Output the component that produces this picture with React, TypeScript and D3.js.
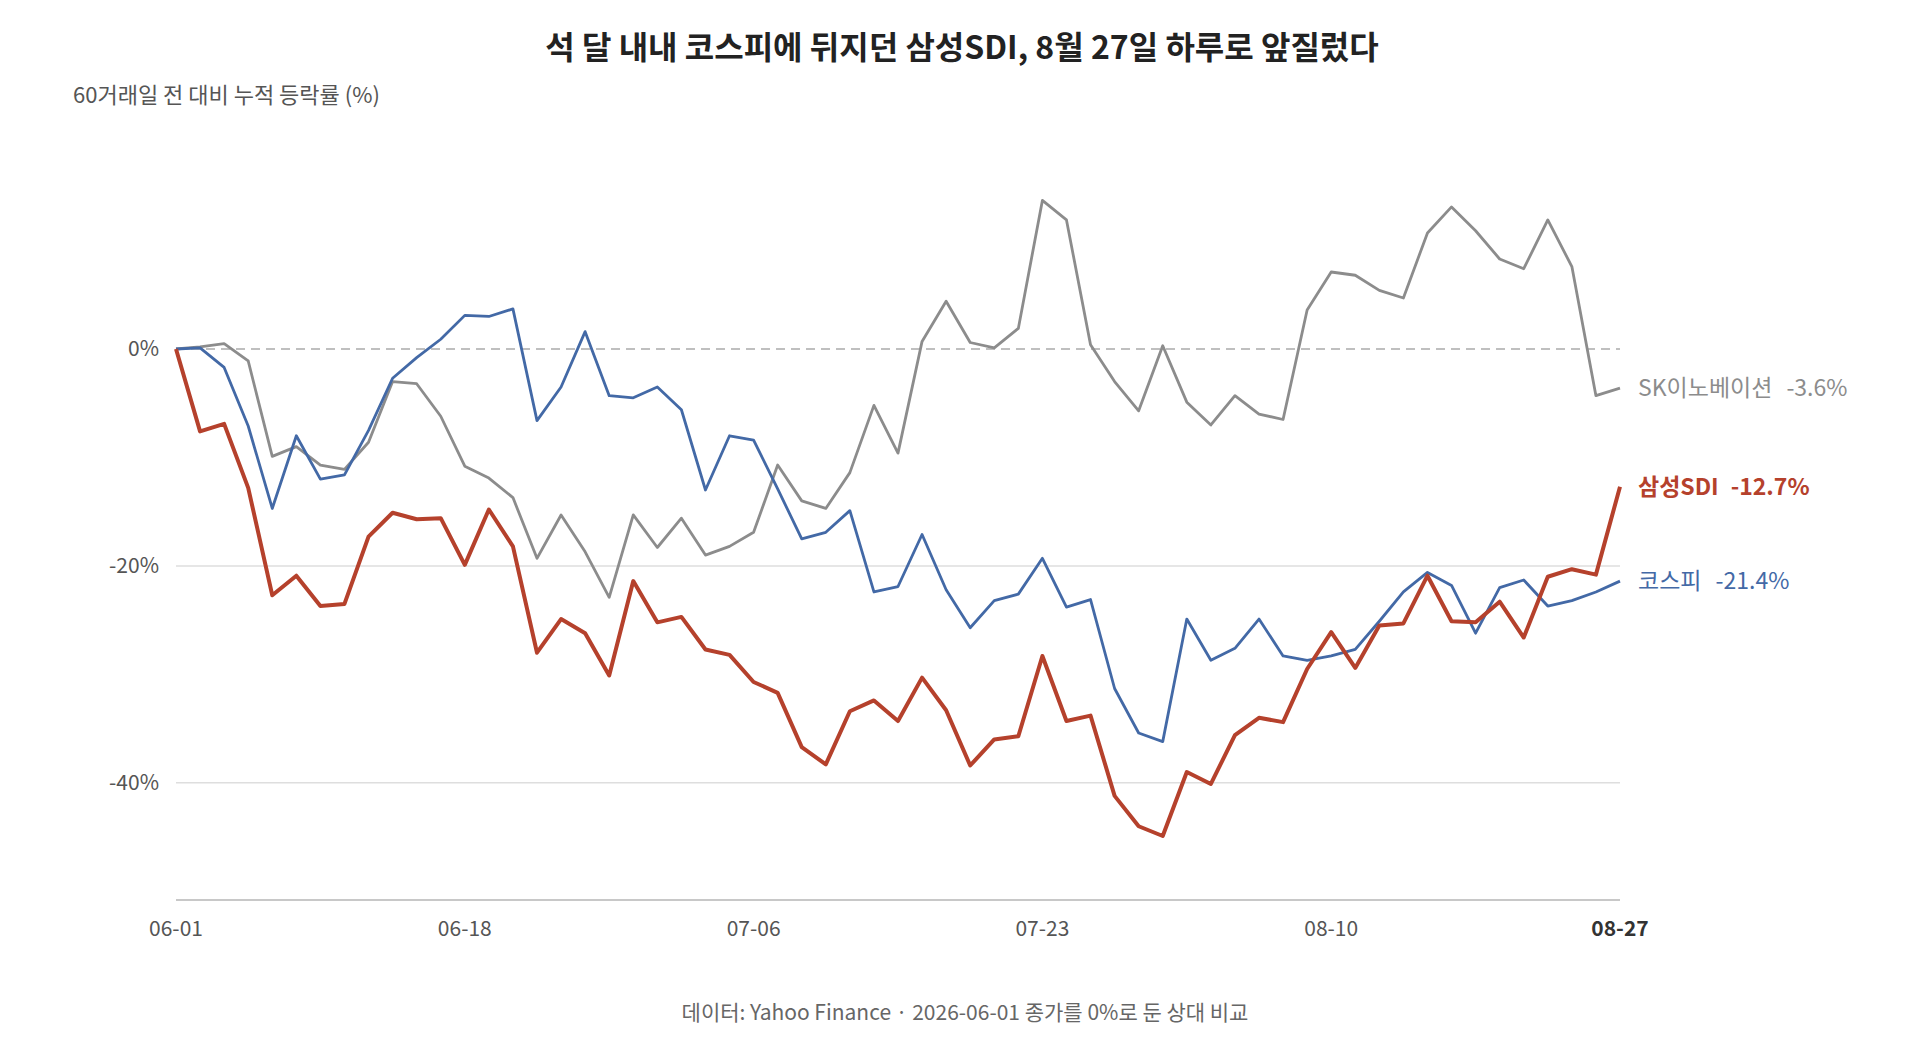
import React, { useEffect, useRef } from 'react';
import * as d3 from 'd3';

// 2026-06-01 종가 = 0% 기준, 61 거래일 누적 등락률 (%)
const samsungSdi = [
  0, -7.6, -6.9, -12.8, -22.7, -20.9, -23.7, -23.5, -17.3, -15.1,
  -15.7, -15.6, -19.9, -14.8, -18.2, -28.0, -24.9, -26.2, -30.1, -21.4,
  -25.2, -24.7, -27.7, -28.2, -30.7, -31.7, -36.7, -38.3, -33.4, -32.4,
  -34.3, -30.3, -33.3, -38.4, -36.0, -35.7, -28.3, -34.3, -33.8, -41.2,
  -44.0, -44.9, -39.0, -40.1, -35.6, -34.0, -34.4, -29.5, -26.1, -29.4,
  -25.5, -25.3, -20.9, -25.1, -25.2, -23.3, -26.6, -21.0, -20.3, -20.8,
  -12.7
];

const kospi = [
  0, 0.1, -1.7, -7.1, -14.7, -8.0, -12.0, -11.6, -7.5, -2.7,
  -0.8, 0.9, 3.1, 3.0, 3.7, -6.6, -3.5, 1.6, -4.3, -4.5,
  -3.5, -5.6, -13.0, -8.0, -8.4, -12.9, -17.5, -16.9, -14.9, -22.4,
  -21.9, -17.1, -22.2, -25.7, -23.2, -22.6, -19.3, -23.8, -23.1, -31.3,
  -35.4, -36.2, -24.9, -28.7, -27.6, -24.9, -28.3, -28.7, -28.3, -27.7,
  -25.1, -22.4, -20.6, -21.8, -26.2, -22.0, -21.3, -23.7, -23.2, -22.4,
  -21.4
];

const skInnovation = [
  0, 0.2, 0.5, -1.1, -9.9, -9.0, -10.7, -11.1, -8.6, -3.0,
  -3.2, -6.2, -10.8, -11.9, -13.7, -19.3, -15.3, -18.7, -22.9, -15.3,
  -18.3, -15.6, -19.0, -18.2, -16.9, -10.7, -14.0, -14.7, -11.4, -5.2,
  -9.6, 0.7, 4.4, 0.6, 0.1, 1.9, 13.7, 11.9, 0.4, -3.0,
  -5.7, 0.3, -4.9, -7.0, -4.3, -6.0, -6.5, 3.6, 7.1, 6.8,
  5.4, 4.7, 10.7, 13.1, 10.9, 8.3, 7.4, 11.9, 7.6, -4.3,
  -3.6
];

const xTickIndex = [0, 12, 24, 36, 48, 60];
const xTickLabels = ['06-01', '06-18', '07-06', '07-23', '08-10', '08-27'];
const yTicks = [0, -20, -40];

const series = [
  { name: 'SK이노베이션', values: skInnovation, color: '#8c8c8c', width: 2.8, bold: false },
  { name: '코스피', values: kospi, color: '#4369a6', width: 2.8, bold: false },
  { name: '삼성SDI', values: samsungSdi, color: '#b5412c', width: 4, bold: true }
];

const FONT = '"Noto Sans CJK KR", "Noto Sans", sans-serif';
const fmt = (v: number) => `${v < 0 ? '-' : ''}${Math.abs(v).toFixed(1)}%`;

const App: React.FC = () => {
  const svgRef = useRef<SVGSVGElement>(null);

  useEffect(() => {
    if (!svgRef.current) return;
    const svg = d3.select(svgRef.current);
    svg.selectAll('*').remove();

    const width = 1920;
    const height = 1040;
    const left = 176;
    const right = 1620;

    const x = d3.scaleLinear().domain([0, 60]).range([left, right]);
    const y = d3.scaleLinear().domain([-50.8, 0]).range([900, 349]);

    svg.append('rect').attr('width', width).attr('height', height).attr('fill', '#fff');

    // title + subtitle
    svg.append('text')
      .attr('x', 962).attr('y', 59)
      .attr('text-anchor', 'middle')
      .attr('font-size', 32).attr('font-weight', 700)
      .attr('fill', '#222')
      .text('석 달 내내 코스피에 뒤지던 삼성SDI, 8월 27일 하루로 앞질렀다');

    svg.append('text')
      .attr('x', 73).attr('y', 103)
      .attr('font-size', 22)
      .attr('fill', '#555')
      .text('60거래일 전 대비 누적 등락률 (%)');

    // gridlines
    yTicks.forEach(t => {
      svg.append('line')
        .attr('x1', left).attr('x2', right)
        .attr('y1', y(t)).attr('y2', y(t))
        .attr('stroke', t === 0 ? '#aaa' : '#dedede')
        .attr('stroke-width', 1.5)
        .attr('stroke-dasharray', t === 0 ? '9,6' : null);

      svg.append('text')
        .attr('x', 159).attr('y', y(t))
        .attr('dy', '0.35em')
        .attr('text-anchor', 'end')
        .attr('font-size', 21)
        .attr('fill', '#555')
        .text(`${t}%`);
    });

    // bottom axis
    svg.append('line')
      .attr('x1', left).attr('x2', right)
      .attr('y1', y(-50.8)).attr('y2', y(-50.8))
      .attr('stroke', '#c8c8c8')
      .attr('stroke-width', 2);

    xTickIndex.forEach((idx, i) => {
      const last = i === xTickIndex.length - 1;
      svg.append('text')
        .attr('x', x(idx)).attr('y', 929)
        .attr('dy', '0.35em')
        .attr('text-anchor', 'middle')
        .attr('font-size', 21)
        .attr('font-weight', last ? 600 : 400)
        .attr('fill', last ? '#333' : '#555')
        .text(xTickLabels[i]);
    });

    const line = d3.line<number>()
      .x((_, i) => x(i))
      .y(d => y(d));

    series.forEach(s => {
      svg.append('path')
        .datum(s.values)
        .attr('fill', 'none')
        .attr('stroke', s.color)
        .attr('stroke-width', s.width)
        .attr('stroke-linejoin', 'round')
        .attr('d', line);

      const lastVal = s.values[s.values.length - 1];
      const label = svg.append('text')
        .attr('x', x(60) + 18).attr('y', y(lastVal))
        .attr('dy', '0.35em')
        .attr('font-size', 23)
        .attr('font-weight', s.bold ? 700 : 400)
        .attr('fill', s.color);
      label.append('tspan').text(s.name);
      label.append('tspan').attr('dx', s.bold ? 12 : 14).text(fmt(lastVal));
    });

    // footer
    svg.append('text')
      .attr('x', 965).attr('y', 1013)
      .attr('dy', '0.35em')
      .attr('text-anchor', 'middle')
      .attr('font-size', 21)
      .attr('fill', '#666')
      .text('데이터: Yahoo Finance · 2026-06-01 종가를 0%로 둔 상대 비교');
  }, []);

  return (
    <svg
      ref={svgRef}
      width={1920}
      height={1040}
      style={{ position: 'absolute', left: 0, top: 0, fontFamily: FONT }}
    />
  );
};

export default App;
